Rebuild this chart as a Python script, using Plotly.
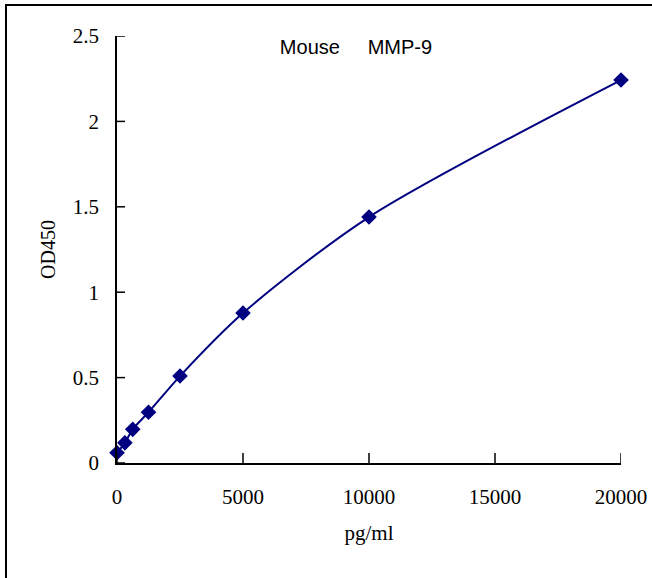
import plotly.graph_objects as go

conc = [0, 312.5, 625, 1250, 2500, 5000, 10000, 20000]
od = [0.06, 0.118, 0.197, 0.297, 0.509, 0.878, 1.44, 2.242]
xticks = [0, 5000, 10000, 15000, 20000]
xtick_text = ["0", "5000", "10000", "15000", "20000"]
yticks = [0, 0.5, 1, 1.5, 2, 2.5]
ytick_text = ["0", "0.5", "1", "1.5", "2", "2.5"]

navy = "#000080"
serif = "Liberation Serif, DejaVu Serif, serif"

fig = go.Figure()
fig.add_trace(go.Scatter(
    x=conc, y=od, mode="lines+markers",
    line=dict(color=navy, width=2, shape="spline", smoothing=0.8),
    marker=dict(symbol="diamond", size=12, color=navy),
    showlegend=False, cliponaxis=False,
))

# inside tick marks, placed through the axes (data coords along the axis, domain across it)
tick_shapes = []
for v in xticks:
    tick_shapes.append(dict(type="line", xref="x", yref="y domain", x0=v, x1=v,
                            y0=0, y1=10 / 427, line=dict(color="black", width=1.5)))
for v in yticks:
    tick_shapes.append(dict(type="line", xref="x domain", yref="y", x0=0, x1=8 / 504,
                            y0=v, y1=v, line=dict(color="black", width=1.5)))

frame = dict(type="rect", xref="paper", yref="paper",
             x0=(6 - 117) / 504, x1=1.3, y0=-0.5, y1=(463 - 5) / 427,
             line=dict(color="black", width=2), layer="below")

fig.update_layout(
    width=652, height=578,
    margin=dict(l=117, r=31, t=36, b=115, autoexpand=False),
    paper_bgcolor="white", plot_bgcolor="white",
    title=dict(text="Mouse" + "\u00a0" * 5 + "MMP-9", x=356 / 652, xanchor="center",
               y=1 - 47 / 578, yanchor="middle", automargin=False,
               font=dict(family="Liberation Sans, Arial, sans-serif", size=20, color="black")),
    xaxis=dict(range=[0, 20000], tickvals=xticks, ticktext=xtick_text, ticks="",
               showline=True, linecolor="black", linewidth=1.5, showgrid=False,
               zeroline=False, ticklabelstandoff=14, automargin=False,
               tickfont=dict(family=serif, size=21, color="black"),
               title=dict(text="pg/ml", standoff=17,
                          font=dict(family=serif, size=21, color="black"))),
    yaxis=dict(range=[0, 2.5], tickvals=yticks, ticktext=ytick_text, ticks="",
               showline=True, linecolor="black", linewidth=1.5, showgrid=False,
               zeroline=False, ticklabelstandoff=12, automargin=False,
               tickfont=dict(family=serif, size=21, color="black"),
               title=dict(text="OD450", standoff=12,
                          font=dict(family=serif, size=20, color="black"))),
    shapes=[frame] + tick_shapes,
)

fig.write_html("out.html", config={"displayModeBar": False},
               post_script="document.body.style.margin='0';document.body.style.overflow='hidden';")
